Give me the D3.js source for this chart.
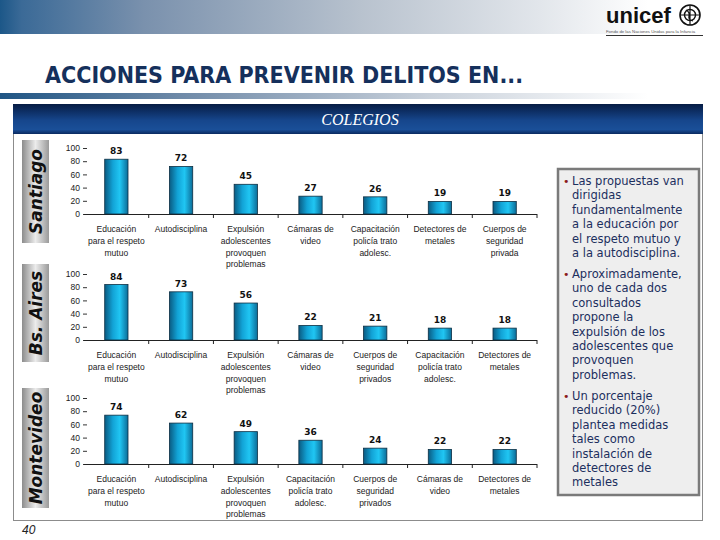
<!DOCTYPE html>
<html>
<head>
<meta charset="utf-8">
<script src="https://cdnjs.cloudflare.com/ajax/libs/d3/7.8.5/d3.min.js"></script>
<style>
  body { margin: 0; background: #fff; }
  svg { display: block; }
</style>
</head>
<body>
<div id="chart-area"></div>
<script>
// data
var cities = ["Santiago", "Bs. Aires", "Montevideo"];

var santiagoCats = ["Educación|para el respeto|mutuo", "Autodisciplina", "Expulsión|adolescentes|provoquen|problemas",
    "Cámaras de|video", "Capacitación|policía trato|adolesc.", "Detectores de|metales", "Cuerpos de|seguridad|privada"];
var santiagoValues = [83, 72, 45, 27, 26, 19, 19];

var bsasCats = ["Educación|para el respeto|mutuo", "Autodisciplina", "Expulsión|adolescentes|provoquen|problemas",
    "Cámaras de|video", "Cuerpos de|seguridad|privados", "Capacitación|policía trato|adolesc.", "Detectores de|metales"];
var bsasValues = [84, 73, 56, 22, 21, 18, 18];

var montevideoCats = ["Educación|para el respeto|mutuo", "Autodisciplina", "Expulsión|adolescentes|provoquen|problemas",
    "Capacitación|policía trato|adolesc.", "Cuerpos de|seguridad|privados", "Cámaras de|video", "Detectores de|metales"];
var montevideoValues = [74, 62, 49, 36, 24, 22, 22];

var yTicks = [0, 20, 40, 60, 80, 100];

var notes = [
    ["Las propuestas van", "dirigidas", "fundamentalmente", "a la educación por", "el respeto mutuo y", "a la autodisciplina."],
    ["Aproximadamente,", "uno de cada dos", "consultados", "propone la", "expulsión de los", "adolescentes que", "provoquen", "problemas."],
    ["Un porcentaje", "reducido (20%)", "plantea medidas", "tales como", "instalación  de", "detectores de", "metales"]
];

var W = 720, H = 540;

var svg = d3.select("#chart-area").append("svg")
    .attr("width", W)
    .attr("height", H);

var defs = svg.append("defs");

// top header gradient
var g1 = defs.append("linearGradient").attr("id", "hdr");
g1.append("stop").attr("offset", "0%").attr("stop-color", "#1c5788");
g1.append("stop").attr("offset", "3%").attr("stop-color", "#3b6a97");
g1.append("stop").attr("offset", "20%").attr("stop-color", "#7a91ad");
g1.append("stop").attr("offset", "50%").attr("stop-color", "#b8c2ce");
g1.append("stop").attr("offset", "75%").attr("stop-color", "#e2e6eb");
g1.append("stop").attr("offset", "90%").attr("stop-color", "#ffffff");

var g2 = defs.append("linearGradient").attr("id", "bar2");
g2.append("stop").attr("offset", "0%").attr("stop-color", "#1f5584");
g2.append("stop").attr("offset", "25%").attr("stop-color", "#6f8aa8");
g2.append("stop").attr("offset", "60%").attr("stop-color", "#c9d1db");
g2.append("stop").attr("offset", "90%").attr("stop-color", "#ffffff");

var g3 = defs.append("linearGradient").attr("id", "band")
    .attr("x1", 0).attr("y1", 0).attr("x2", 0).attr("y2", 1);
g3.append("stop").attr("offset", "0%").attr("stop-color", "#061c44");
g3.append("stop").attr("offset", "55%").attr("stop-color", "#16468c");
g3.append("stop").attr("offset", "85%").attr("stop-color", "#1a4f98");
g3.append("stop").attr("offset", "100%").attr("stop-color", "#0a2a60");

var g4 = defs.append("linearGradient").attr("id", "city");
g4.append("stop").attr("offset", "0%").attr("stop-color", "#8c8c8c");
g4.append("stop").attr("offset", "50%").attr("stop-color", "#ececec");
g4.append("stop").attr("offset", "100%").attr("stop-color", "#9a9a9a");

var g5 = defs.append("linearGradient").attr("id", "cyl");
g5.append("stop").attr("offset", "0%").attr("stop-color", "#0a5b82");
g5.append("stop").attr("offset", "35%").attr("stop-color", "#12a3d6");
g5.append("stop").attr("offset", "65%").attr("stop-color", "#20c6f3");
g5.append("stop").attr("offset", "100%").attr("stop-color", "#0b6c98");

// header
svg.append("rect").attr("x", 0).attr("y", 0).attr("width", W).attr("height", 34).attr("fill", "url(#hdr)");

// unicef logo
var logo = svg.append("g");
logo.append("text").attr("x", 606).attr("y", 23)
    .style("font-family", "Liberation Sans, Arial, sans-serif")
    .style("font-weight", "bold").style("font-size", "22px").attr("fill", "#111")
    .text("unicef");
logo.append("circle").attr("cx", 690).attr("cy", 15).attr("r", 10)
    .attr("fill", "none").attr("stroke", "#111").attr("stroke-width", 1.6);
logo.append("circle").attr("cx", 690).attr("cy", 15).attr("r", 5.5)
    .attr("fill", "none").attr("stroke", "#111").attr("stroke-width", 1.4);
logo.append("path").attr("d", "M686,10 q4,2 3,6 q-1,4 4,5 M690,5 L690,25 M680,15 L700,15")
    .attr("fill", "none").attr("stroke", "#111").attr("stroke-width", 1.2);
logo.append("text").attr("x", 606).attr("y", 33)
    .style("font-family", "Liberation Sans, Arial, sans-serif").style("font-size", "4.3px").attr("fill", "#555")
    .text("Fondo de las Naciones Unidas para la Infancia");
logo.append("line").attr("x1", 606).attr("x2", 703).attr("y1", 35.5).attr("y2", 35.5)
    .attr("stroke", "#333").attr("stroke-width", 1);

// title
svg.append("text").attr("x", 45).attr("y", 83)
    .style("font-family", "Liberation Sans Narrow, DejaVu Sans Condensed, sans-serif")
    .style("font-weight", "bold").style("font-size", "23px")
    .attr("fill", "#15305c")
    .text("ACCIONES PARA PREVENIR DELITOS EN...");

svg.append("rect").attr("x", 0).attr("y", 93).attr("width", W).attr("height", 6).attr("fill", "url(#bar2)");

// frame
svg.append("rect").attr("x", 13.5).attr("y", 104.5).attr("width", 689).attr("height", 416)
    .attr("fill", "#fff").attr("stroke", "#8c8c8c").attr("stroke-width", 1);
svg.append("rect").attr("x", 13).attr("y", 104).attr("width", 690).attr("height", 30).attr("fill", "url(#band)");
svg.append("text").attr("x", 360).attr("y", 125).attr("text-anchor", "middle")
    .style("font-family", "Liberation Serif, Times New Roman, serif")
    .style("font-style", "italic").style("font-size", "16px").attr("fill", "#fff")
    .text("COLEGIOS");

// panels
var panels = [
    { cats: santiagoCats, values: santiagoValues, base: 214, box: [140, 243] },
    { cats: bsasCats, values: bsasValues, base: 340, box: [264, 362] },
    { cats: montevideoCats, values: montevideoValues, base: 464, box: [388, 508] }
];

panels.forEach((p, pi) => {
    // city label
    svg.append("rect").attr("x", 22).attr("y", p.box[0]).attr("width", 27).attr("height", p.box[1] - p.box[0])
        .attr("fill", "url(#city)");
    var cy = (p.box[0] + p.box[1]) / 2;
    svg.append("text")
        .attr("transform", "translate(42," + cy + ") rotate(-90)")
        .attr("text-anchor", "middle")
        .style("font-family", "DejaVu Sans, Verdana, sans-serif")
        .style("font-weight", "bold").style("font-style", "italic").style("font-size", "17px")
        .attr("fill", "#111")
        .text(cities[pi]);

    var x = d3.scaleBand()
        .domain(p.cats)
        .range([84, 537])
        .paddingInner(0.64)
        .paddingOuter(0.32);

    var y = d3.scaleLinear()
        .domain([0, 100])
        .range([p.base, p.base - 66]);

    var g = svg.append("g");

    // y axis
    var ya = g.append("g")
        .attr("transform", "translate(87,0)")
        .call(d3.axisLeft(y).tickValues(yTicks).tickSize(4).tickPadding(3));
    ya.select(".domain").remove();
    ya.selectAll("line").attr("stroke", "#333");
    ya.selectAll("text")
        .style("font-family", "Liberation Sans, Tahoma, sans-serif").style("font-size", "8.5px").attr("fill", "#222");

    // x axis
    g.append("line").attr("x1", 84).attr("x2", 537).attr("y1", p.base + 0.5).attr("y2", p.base + 0.5)
        .attr("stroke", "#222").attr("stroke-width", 1);
    g.selectAll(".tk").data(p.cats).enter().append("line")
        .attr("x1", d => x(d) - x.step() * 0.32 + x.step())
        .attr("x2", d => x(d) - x.step() * 0.32 + x.step())
        .attr("y1", p.base).attr("y2", p.base + 4)
        .attr("stroke", "#222");

    // bars
    g.selectAll("rect").data(p.values).enter().append("rect")
        .attr("x", (d, i) => x(p.cats[i]))
        .attr("y", d => y(d))
        .attr("width", x.bandwidth())
        .attr("height", d => p.base - y(d))
        .attr("fill", "url(#cyl)")
        .attr("stroke", "#0d2e42")
        .attr("stroke-width", 0.8);

    // value labels
    g.selectAll(".val").data(p.values).enter().append("text")
        .attr("x", (d, i) => x(p.cats[i]) + x.bandwidth() / 2)
        .attr("y", d => y(d) - 5)
        .attr("text-anchor", "middle")
        .style("font-family", "DejaVu Sans, Verdana, sans-serif")
        .style("font-weight", "bold").style("font-size", "9px").attr("fill", "#111")
        .text(d => d);

    // category labels
    p.cats.forEach((c, i) => {
        var t = g.append("text")
            .attr("text-anchor", "middle")
            .style("font-family", "Liberation Sans, Tahoma, sans-serif")
            .style("font-size", "8.5px").attr("fill", "#222");
        c.split("|").forEach((line, li) => {
            t.append("tspan")
                .attr("x", x(c) + x.bandwidth() / 2)
                .attr("y", p.base + 18 + li * 11.8)
                .text(line);
        });
    });
});

// notes box
svg.append("rect").attr("x", 558).attr("y", 169).attr("width", 141).attr("height", 326)
    .attr("fill", "#eeeeee").attr("stroke", "#7a7a7a").attr("stroke-width", 2.5);

var noteStart = [185, 278, 400];
notes.forEach((lines, ni) => {
    svg.append("text").attr("x", 563).attr("y", noteStart[ni])
        .style("font-family", "DejaVu Sans, Verdana, sans-serif").style("font-size", "11px")
        .attr("fill", "#8b1a1a").text("•");
    var t = svg.append("text")
        .style("font-family", "DejaVu Sans, Verdana, sans-serif").style("font-size", "11.5px")
        .attr("fill", "#1c2f5e");
    lines.forEach((line, li) => {
        t.append("tspan").attr("x", 572).attr("y", noteStart[ni] + li * 14.4).text(line);
    });
});

// page number
svg.append("text").attr("x", 22).attr("y", 534)
    .style("font-family", "Liberation Sans, Arial, sans-serif")
    .style("font-style", "italic").style("font-size", "12px").attr("fill", "#222")
    .text("40");
</script>
</body>
</html>
